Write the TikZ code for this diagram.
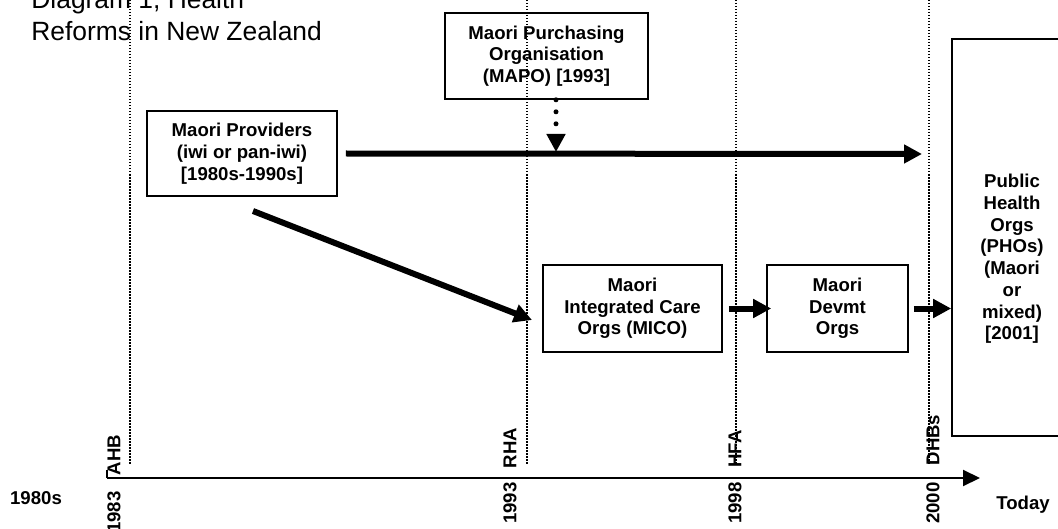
\documentclass[tikz,border=0pt]{standalone}
\usepackage{fontspec}
\setmainfont{Liberation Sans}
\usetikzlibrary{arrows.meta,calc}

\begin{document}
\begin{tikzpicture}[x=0.5pt,y=-0.5pt,>={Triangle[length=9pt,width=9pt]},
  orgbox/.style={draw,line width=0.8pt,inner sep=0pt,align=center,
    font=\bfseries\fontsize{9.3}{10.85}\selectfont},
  eralabel/.style={rotate=90,inner sep=0pt,font=\bfseries\fontsize{9.3}{10.85}\selectfont},
  eraline/.style={line width=0.7pt,dash pattern=on 0.75pt off 0.75pt},
  flow/.style={line width=3pt,->}]

\useasboundingbox (0,0) rectangle (1058,529);

% Fixed points of the layout (grid of the page, y runs downwards).
\coordinate (axisStart) at (107,478);
\coordinate (axisEnd) at (980,478);
\coordinate (provTip) at (922,154);
\coordinate (mapoDrop) at (556,152);
\coordinate (diagStart) at (253,211);
\coordinate (micoTip) at (532,320);

% Title, partly cut off at the top.
\node[anchor=south west,inner sep=0pt,align=left,
  font=\fontsize{13.2}{16}\selectfont] (title) at (31,41)
  {Diagram 1, Health\\Reforms in New Zealand};

% Reform dates: dotted line, body above the axis, year below.
\foreach \lx/\tx/\ty/\era/\yy/\yr in
  {130/114/455/AHB/512/1983, 527/510/448/RHA/503/1993,
   736/735/449/HFA/503/1998, 929/933/440/DHBs/503/2000}{
  \draw[eraline] (\lx,0) -- (\lx,465);
  \node[eralabel] (era\era) at (\tx,\ty) {\era};
  \node[eralabel] (yr\yr) at (\tx,\yy) {\yr};
}

% Time axis.
\draw[line width=1pt,-{Triangle[length=8.5pt,width=8pt]}] (axisStart) -- (axisEnd);
\draw[line width=1pt] (axisStart) -- ++(0,-8);
\node[font=\bfseries\fontsize{9.3}{10.85}\selectfont] (past) at (36,498) {1980s};
\node[font=\bfseries\fontsize{9.3}{10.85}\selectfont] (today) at (1023,505) {Today};

% Organisations.
\node[orgbox,minimum width=95pt,minimum height=42.5pt] (prov) at (242,153.5)
  {Maori Providers\\(iwi or pan-iwi)\\{}[1980s-1990s]};
\node[orgbox,minimum width=101.5pt,minimum height=43pt] (mapo) at (546.5,56)
  {Maori Purchasing\\Organisation\\(MAPO) [1993]};
\node[orgbox,minimum width=89.5pt,minimum height=43.5pt] (mico) at (632.5,308.5)
  {Maori\\Integrated Care\\Orgs (MICO)};
\node[orgbox,minimum width=70.5pt,minimum height=43.5pt] (devmt) at (837.5,308.5)
  {Maori\\Devmt\\Orgs};
\node[orgbox,minimum width=60pt,minimum height=198.5pt] (pho) at (1012,237.5) {};
\node[orgbox,draw=none] (phoText) at (1012,259)
  {Public\\Health\\Orgs\\(PHOs)\\(Maori\\or\\mixed)\\{}[2001]};

% Flows between them.
\draw[flow] ($(prov.east)+(8,0)$) -- (provTip);
\draw[flow] (diagStart) -- (micoTip);
\draw[flow] ($(mico.east)+(6,0)$) -- ($(devmt.west)+(5,0)$);
\draw[flow] ($(devmt.east)+(5,0)$) -- (devmt.east -| pho.west);
\draw[line width=2.5pt,line cap=round,dash pattern=on 0pt off 6pt,->]
  (mapo.south -| mapoDrop) -- (mapoDrop);
\end{tikzpicture}
\end{document}
